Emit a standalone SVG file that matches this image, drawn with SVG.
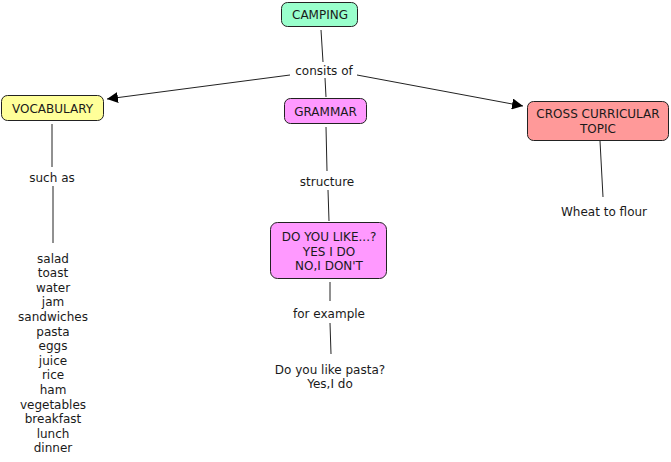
<svg xmlns="http://www.w3.org/2000/svg" width="671" height="462" viewBox="0 0 671 462">
<style>
text{font-family:"DejaVu Sans",Verdana,sans-serif;font-size:12px;fill:#1a1a1a;text-anchor:middle}
.box{stroke:#222;stroke-width:1}
.ln{stroke:#222;stroke-width:1;fill:none}
</style>
<defs>
<marker id="ar" viewBox="0 0 10 10" refX="10" refY="5" markerWidth="11" markerHeight="11" markerUnits="userSpaceOnUse" orient="auto">
<path d="M0,0 L10,5 L0,10 z" fill="#000"/>
</marker>
</defs>
<rect width="671" height="462" fill="#fff"/>
<g id="connectors">
<line class="ln" x1="321" y1="30" x2="323" y2="62"/>
<line class="ln" x1="325" y1="78" x2="326" y2="97"/>
<line class="ln" x1="290" y1="75" x2="107" y2="99" marker-end="url(#ar)"/>
<line class="ln" x1="357" y1="75" x2="523" y2="106" marker-end="url(#ar)"/>
<line class="ln" x1="52" y1="124" x2="52" y2="167"/>
<line class="ln" x1="53" y1="186" x2="53" y2="243"/>
<line class="ln" x1="326" y1="127" x2="327" y2="171"/>
<line class="ln" x1="328" y1="190" x2="329" y2="221"/>
<line class="ln" x1="330" y1="282" x2="330" y2="301"/>
<line class="ln" x1="330" y1="323" x2="331" y2="354"/>
<line class="ln" x1="600" y1="141" x2="603" y2="197"/>
</g>
<g id="camping">
<rect class="box" x="281.5" y="2.5" width="76" height="24" rx="6" fill="#99ffcc"/>
<text x="320" y="18.5">CAMPING</text>
</g>
<g id="consits-of"><text x="324" y="74.5">consits of</text></g>
<g id="vocabulary">
<rect class="box" x="1.5" y="95.5" width="102" height="25" rx="6" fill="#ffff99"/>
<text x="52.5" y="112.5">VOCABULARY</text>
</g>
<g id="grammar">
<rect class="box" x="284.5" y="98.5" width="82" height="25" rx="6" fill="#ff99ff"/>
<text x="325.5" y="115.5">GRAMMAR</text>
</g>
<g id="cross">
<rect class="box" x="527.5" y="101.5" width="141" height="39" rx="6" fill="#ff9999"/>
<text x="598" y="118">CROSS CURRICULAR</text>
<text x="598" y="133">TOPIC</text>
</g>
<g id="such-as"><text x="52" y="181.5">such as</text></g>
<g id="words">
<text x="53" y="262.5">salad</text>
<text x="53" y="277.1">toast</text>
<text x="53" y="291.7">water</text>
<text x="53" y="306.3">jam</text>
<text x="53" y="320.9">sandwiches</text>
<text x="53" y="335.5">pasta</text>
<text x="53" y="350.1">eggs</text>
<text x="53" y="364.7">juice</text>
<text x="53" y="379.3">rice</text>
<text x="53" y="393.9">ham</text>
<text x="53" y="408.5">vegetables</text>
<text x="53" y="423.1">breakfast</text>
<text x="53" y="437.7">lunch</text>
<text x="53" y="452.3">dinner</text>
</g>
<g id="structure"><text x="327" y="185.5">structure</text></g>
<g id="doyoulike">
<rect class="box" x="270.5" y="222.5" width="116" height="56" rx="7" fill="#ff99ff"/>
<text x="329" y="240.5">DO YOU LIKE...?</text>
<text x="329" y="255.5">YES I DO</text>
<text x="329" y="269.5">NO,I DON'T</text>
</g>
<g id="for-example"><text x="329" y="317.5">for example</text></g>
<g id="pasta">
<text x="330" y="373.5">Do you like pasta?</text>
<text x="330" y="387.5">Yes,I do</text>
</g>
<g id="wheat"><text x="604" y="215.5">Wheat to flour</text></g>
</svg>
